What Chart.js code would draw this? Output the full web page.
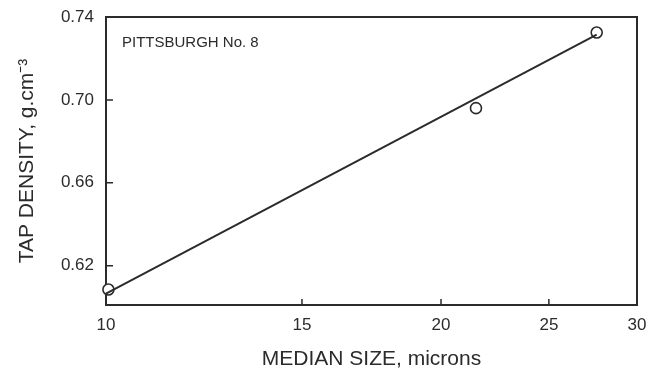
<!DOCTYPE html>
<html>
<head>
<meta charset="utf-8">
<script src="https://cdn.jsdelivr.net/npm/chart.js@4"></script>
<style>
    html, body { margin: 0; padding: 0; background: #fff; }
    #wrap { width: 652px; height: 385px; }
</style>
</head>
<body>
<div id="wrap"><canvas id="tapChart" width="652" height="385"></canvas></div>
<script>
// measured points (median size in microns, tap density g/cm3)
const sizes = [10.05, 21.5, 27.6];
const densities = [0.6085, 0.696, 0.7325];

// fitted line, two ends
const fitSizes = [10, 27.6];
const fitDensities = [0.6065, 0.7315];

const xTicks = [10, 15, 20, 25, 30];
const yTicks = [0.62, 0.66, 0.70, 0.74];

const ink = '#2b2b2b';
const fontFam = '"Liberation Sans", Arial, sans-serif';

// box + inward tick marks + label
const framePlugin = {
    id: 'frame',
    beforeDatasetsDraw(chart) {
        const { ctx, chartArea: a, scales } = chart;
        ctx.save();
        ctx.strokeStyle = ink;
        ctx.lineWidth = 2;
        ctx.strokeRect(a.left, a.top, a.right - a.left, a.bottom - a.top);
        ctx.lineWidth = 1.5;
        ctx.beginPath();
        xTicks.slice(1, -1).forEach(v => {
            const x = scales.x.getPixelForValue(v);
            ctx.moveTo(x, a.bottom);
            ctx.lineTo(x, a.bottom - 6);
        });
        yTicks.slice(0, -1).forEach(v => {
            const y = scales.y.getPixelForValue(v);
            ctx.moveTo(a.left, y);
            ctx.lineTo(a.left + 7, y);
        });
        ctx.stroke();
        ctx.fillStyle = ink;
        ctx.font = '15px ' + fontFam;
        ctx.textBaseline = 'middle';
        ctx.fillText('PITTSBURGH No. 8', a.left + 16, a.top + 26);
        ctx.restore();
    }
};

new Chart(document.getElementById('tapChart'), {
    type: 'scatter',
    data: {
        datasets: [
            {
                type: 'line',
                data: fitSizes.map((x, i) => ({ x, y: fitDensities[i] })),
                borderColor: ink,
                borderWidth: 2,
                pointRadius: 0,
                clip: false
            },
            {
                data: sizes.map((x, i) => ({ x, y: densities[i] })),
                pointRadius: 5.5,
                pointBackgroundColor: '#fff',
                pointBorderColor: ink,
                pointBorderWidth: 1.6,
                clip: false
            }
        ]
    },
    plugins: [framePlugin],
    options: {
        responsive: false,
        animation: false,
        layout: { padding: { left: 0, right: 15, top: 17, bottom: 0 } },
        plugins: { legend: { display: false }, tooltip: { enabled: false } },
        scales: {
            x: {
                type: 'logarithmic',
                min: 10,
                max: 30,
                afterBuildTicks: s => { s.ticks = xTicks.map(v => ({ value: v })); },
                afterFit: s => { s.height = 80; },
                grid: { display: false },
                border: { display: false },
                ticks: {
                    autoSkip: false,
                    maxRotation: 0,
                    padding: 2,
                    color: ink,
                    font: { family: fontFam, size: 17 },
                    callback: v => String(v)
                },
                title: {
                    display: true,
                    text: 'MEDIAN SIZE, microns',
                    color: ink,
                    font: { family: fontFam, size: 21 },
                    padding: { top: 0, bottom: 13 }
                }
            },
            y: {
                min: 0.601,
                max: 0.74,
                afterBuildTicks: s => { s.ticks = yTicks.map(v => ({ value: v })); },
                afterFit: s => { s.width = 106; },
                grid: { display: false },
                border: { display: false },
                ticks: {
                    padding: 4,
                    color: ink,
                    font: { family: fontFam, size: 17 },
                    callback: v => v.toFixed(2)
                },
                title: {
                    display: true,
                    text: 'TAP DENSITY, g.cm\u207B\u00B3',
                    color: ink,
                    font: { family: fontFam, size: 21 },
                    padding: { top: 15, bottom: 0 }
                }
            }
        }
    }
});
</script>
</body>
</html>
